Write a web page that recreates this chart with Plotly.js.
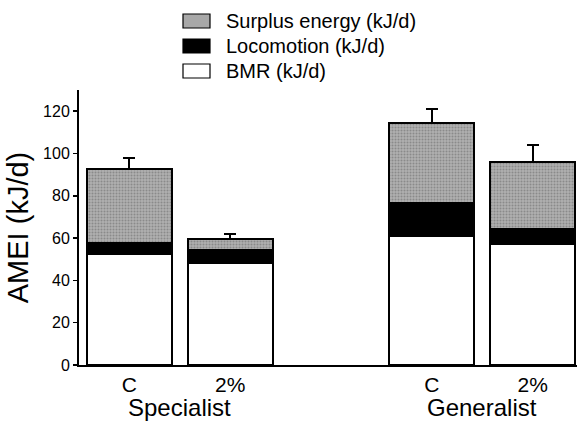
<!DOCTYPE html>
<html>
<head>
<meta charset="utf-8">
<script src="https://cdn.plot.ly/plotly-3.0.1.min.js"></script>
<style>html,body{margin:0;padding:0;background:#fff;}#chart{width:577px;height:421px;}</style>
</head>
<body>
<div id="chart"></div>
<script>
// Data
const groups = ["Specialist", "Generalist"];
const treatments = ["C", "2%"];
const bmr = [52.5, 48.0, 61.0, 57.0];
const locomotion = [5.0, 6.5, 15.5, 7.5];
const surplus = [35.0, 5.0, 38.0, 31.5];
const errUp = [5.5, 2.2, 6.7, 8.0];
const seriesNames = ["BMR (kJ/d)", "Locomotion (kJ/d)", "Surplus energy (kJ/d)"];

// positions: each group gets its treatments, with one empty slot between groups
const xpos = [];
const xlabels = [];
groups.forEach((g, gi) => treatments.forEach((t, ti) => {
  xpos.push(gi * (treatments.length + 1) + ti);
  xlabels.push(t);
}));

const FONT = "Liberation Sans, Arial, Helvetica, sans-serif";
const outline = {color: "#000", width: 2};
const barW = 0.84;
const surplusPattern = {shape: ".", bgcolor: "#b0b0b0", fgcolor: "#8a8a8a", size: 3, solidity: 0.35, fillmode: "replace"};
const fills = [
  {color: "#ffffff"},
  {color: "#000000"},
  {color: "#a9a9a9", pattern: surplusPattern}
];

const traces = [
  {type: "bar", name: seriesNames[0], x: xpos, y: bmr, width: barW,
   marker: Object.assign({line: outline}, fills[0])},
  {type: "bar", name: seriesNames[1], x: xpos, y: locomotion, width: barW,
   marker: Object.assign({line: outline}, fills[1])},
  {type: "bar", name: seriesNames[2], x: xpos, y: surplus, width: barW,
   marker: Object.assign({line: outline}, fills[2]),
   error_y: {type: "data", symmetric: false, array: errUp, arrayminus: errUp.map(() => 0),
             color: "#000", thickness: 2, width: 6}}
];

// margins / plot box in pixels (for placing the legend box in paper units)
const M = {l: 79, r: 0, t: 90, b: 56};
const W = 577, H = 421;
const pw = W - M.l - M.r, ph = H - M.t - M.b;
const px2x = p => (p - M.l) / pw;
const px2y = p => (H - M.b - p) / ph;

const annotations = groups.map((g, gi) => {
  const xs = treatments.map((t, ti) => gi * (treatments.length + 1) + ti);
  return {text: g, x: (xs[0] + xs[xs.length - 1]) / 2, xref: "x", y: 0, yref: "paper",
          yanchor: "middle", yshift: -42, showarrow: false, font: {family: FONT, size: 24, color: "#000"}};
});

// manual legend: surplus on top, then locomotion, then BMR
const shapes = [];
const legendOrder = [2, 1, 0];
legendOrder.forEach((si, row) => {
  const cy = 21 + row * 25;
  const sh = {type: "rect", xref: "paper", yref: "paper",
    x0: px2x(183), x1: px2x(210), y0: px2y(cy - 7), y1: px2y(cy + 7),
    line: {color: "#000", width: 1.2}, fillcolor: fills[si].color, layer: "above"};
  if (fills[si].pattern) sh.fillcolor = "#a8a8a8";
  shapes.push(sh);
  annotations.push({text: seriesNames[si], xref: "paper", yref: "paper",
    x: px2x(224), y: px2y(cy), xanchor: "left", yanchor: "middle", showarrow: false,
    font: {family: FONT, size: 20, color: "#000"}});
});

const layout = {
  width: W, height: H,
  margin: M,
  paper_bgcolor: "#fff", plot_bgcolor: "#fff",
  barmode: "stack",
  bargap: 0,
  showlegend: false,
  font: {family: FONT, color: "#000"},
  xaxis: {range: [-0.5, 4.44], tickvals: xpos, ticktext: xlabels, showgrid: false, zeroline: false,
          showline: true, linecolor: "#000", linewidth: 2, ticks: "",
          tickfont: {family: FONT, size: 21, color: "#000"}},
  yaxis: {range: [0, 130], tickvals: [0, 20, 40, 60, 80, 100, 120], showgrid: false, zeroline: false,
          showline: true, linecolor: "#000", linewidth: 2, ticks: "outside", ticklen: 4, tickwidth: 1.5,
          tickcolor: "#000", tickfont: {family: FONT, size: 16, color: "#000"},
          title: {text: "AMEI (kJ/d)", font: {family: FONT, size: 29, color: "#000"}, standoff: 6}},
  annotations: annotations,
  shapes: shapes
};

Plotly.newPlot("chart", traces, layout, {displayModeBar: false, staticPlot: true});
</script>
</body>
</html>
